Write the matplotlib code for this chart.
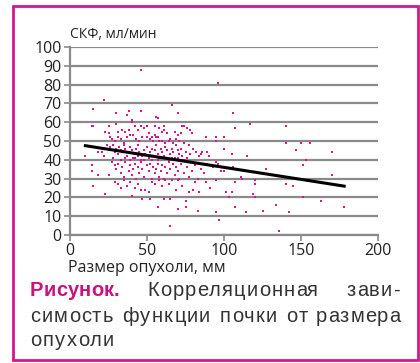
import matplotlib
matplotlib.use("Agg")
import matplotlib.pyplot as plt
from matplotlib.patches import Rectangle

# tumour size (mm) vs GFR (ml/min)
size_mm = [
    15, 22, 30, 37, 38, 46, 46, 40, 56, 57, 66, 70, 96, 106,
    14, 15, 25, 30, 40, 42, 46, 50, 55, 58, 61, 73, 74,
    23, 25, 26, 31, 34, 36, 38, 41, 44, 48, 51, 53, 55, 57, 60, 61, 63, 65, 68, 70, 72, 76, 79, 78,
    27, 29, 31, 33, 35, 37, 39, 43, 45, 47, 50, 52, 54, 56, 58, 60, 62, 64, 67, 69, 71, 74, 77,
    18, 21, 22, 24, 25, 26, 27, 28, 29, 30, 31, 32, 33, 34, 35, 36, 37, 38, 39, 40, 41, 42, 43, 44,
    45, 46, 47, 48, 49, 50, 51, 52, 53, 54, 55, 56, 57, 58, 59, 60, 61, 62, 63, 64, 65, 66, 67, 68,
    69, 70, 71, 72, 73, 75, 76, 78, 80, 82, 84,
    28, 33, 36, 39, 42, 44, 48, 53, 57, 60, 66, 70, 74, 10,
    14, 14, 18, 25, 27, 29, 30, 31, 33, 34, 35, 36, 38, 39, 40, 41, 42, 43, 44, 45, 46, 47, 48, 50,
    51, 52, 53, 54, 55, 56, 57, 58, 59, 60, 61, 62, 63, 64, 65, 67, 68, 69, 70, 71, 72, 74, 76, 77,
    79, 81, 83, 85, 87, 89, 93, 98, 100,
    15, 23, 29, 31, 33, 35, 37, 39, 40, 42, 44, 46, 49, 51, 53, 55, 58, 60, 62, 64, 66, 69, 70, 73,
    77, 80, 81, 84, 88, 91, 95, 101, 103, 105, 107, 112, 119, 120, 120, 120, 140, 145, 151,
    47, 52, 57, 61, 65, 65, 70, 75, 75, 83, 95, 97, 107, 114, 125, 134, 136, 142, 163, 178,
    88, 95, 100, 95, 86, 90, 89, 85, 95, 96, 100, 105, 106, 111, 115, 107, 117, 127, 140, 140,
    147, 150, 151, 153, 170, 170, 156,
]
gfr = [
    67, 72, 65, 64, 66, 88, 66, 61, 63, 62, 69, 65, 81, 65,
    58, 58, 58, 59, 60, 58, 58, 58, 58, 57, 58, 58, 58,
    55, 54, 52, 55, 56, 55, 56, 53, 56, 57, 54, 52, 53, 52, 55, 56, 54, 51, 55, 53, 54, 57, 54, 56,
    51, 50, 52, 51, 49, 52, 53, 51, 50, 52, 52, 51, 50, 52, 50, 50, 49, 50, 49, 51, 50, 49, 48,
    44, 44, 42, 48, 46, 47, 45, 48, 44, 46, 43, 47, 45, 44, 48, 46, 42, 44, 47, 45, 41, 43, 46, 48,
    44, 40, 42, 45, 43, 47, 41, 44, 46, 42, 45, 48, 43, 41, 46, 44, 42, 47, 45, 40, 43, 46, 44, 41,
    48, 45, 43, 46, 42, 44, 41, 43, 46, 44, 42,
    41, 40, 41, 40, 41, 42, 40, 40, 40, 41, 41, 41, 40, 42,
    37, 34, 32, 32, 39, 37, 35, 38, 33, 36, 31, 39, 34, 37, 32, 35, 38, 30, 36, 33, 39, 35, 31, 37,
    34, 38, 30, 36, 33, 35, 38, 31, 34, 37, 30, 36, 33, 39, 35, 38, 32, 36, 34, 30, 38, 33, 36, 31,
    34, 37, 30, 35, 33, 38, 36, 34, 34,
    26, 22, 28, 27, 25, 29, 26, 28, 21, 25, 27, 24, 24, 23, 28, 27, 29, 26, 29, 27, 29, 24, 29, 26,
    23, 24, 28, 23, 28, 25, 29, 23, 20, 23, 28, 30, 22, 20, 27, 29, 27, 26, 20,
    19, 19, 15, 19, 19, 5, 14, 18, 15, 13, 12, 8, 15, 12, 13, 16, 2, 12, 18, 15,
    52, 52, 52, 50, 44, 42, 44, 43, 39, 38, 46, 43, 36, 31, 42, 57, 59, 35, 58, 49,
    45, 49, 37, 40, 44, 32, 49,
]

# linear trend
trend_x = [10, 178]
trend_y = [47.5, 26]

x_ticks = [0, 50, 100, 150, 200]
y_ticks = list(range(0, 101, 10))

caption_lines = [
    ["Рисунок.", "Корреляционная", "зави-"],
    ["симость", "функции", "почки", "от", "размера"],
    ["опухоли"],
]

pink = "#e0138c"
grey = "#8a8a8a"
W, H = 420, 363

fig = plt.figure(figsize=(4.2, 3.63), dpi=100)
ax = fig.add_axes([70 / W, 1 - 235 / H, 308 / W, 188 / H])

ax.scatter(size_mm, gfr, s=2.5, marker="s", color=pink, linewidths=0, zorder=3)
ax.plot(trend_x, trend_y, color="black", lw=2.2, zorder=4)

ax.set_xlim(0, 200)
ax.set_ylim(0, 100)
ax.set_xticks(x_ticks)
ax.set_yticks(y_ticks)
ax.yaxis.grid(True, color=grey, lw=1.6)
ax.set_axisbelow(True)
for s in ["top", "right"]:
    ax.spines[s].set_visible(False)
for s in ["left", "bottom"]:
    ax.spines[s].set_color(grey)
    ax.spines[s].set_linewidth(1.6)
ax.tick_params(colors=grey, width=1.2, length=4, labelcolor="#222222",
               labelsize=11.5, pad=2)
for lab in ax.get_xticklabels() + ax.get_yticklabels():
    lab.set_family(["Open Sans", "DejaVu Sans"])

fig.text(70 / W, 1 - 34 / H, "СКФ, мл/мин", fontsize=10, color="#222222",
         family=["Open Sans", "DejaVu Sans"], va="center")
fig.text(68 / W, 1 - 268 / H, "Размер опухоли, мм", fontsize=11.5, color="#222222",
         family=["Open Sans", "DejaVu Sans"], va="center")

# caption: letter-spaced, justified between x=30 and x=400 px
cap = dict(fontsize=14.5, color="#333333", family=["Liberation Sans", "DejaVu Sans"],
           va="center")
bold = dict(cap, color="#c8127f", fontweight="bold")
fig.canvas.draw()
r = fig.canvas.get_renderer()
tmp = fig.text(0, 0, "", **cap)


def prefix_widths(word, kw):
    tmp.set(**kw)
    out = [0.0]
    for k in range(1, len(word) + 1):
        tmp.set_text(word[:k])
        out.append(tmp.get_window_extent(r).width)
    return out


styles = [[bold if (i == 0 and j == 0) else cap for j in range(len(ws))]
          for i, ws in enumerate(caption_lines)]
pw = [[prefix_widths(w, st) for w, st in zip(ws, sts)]
      for ws, sts in zip(caption_lines, styles)]
tmp.remove()

# tracking chosen so that line 2 has normal word gaps (~8 px)
line2 = pw[1]
n_gaps = sum(len(p) - 2 for p in line2)
track = (370 - 8 * (len(line2) - 1) - sum(p[-1] for p in line2)) / n_gaps
track = max(track, 0.0)

for i, (words, yc) in enumerate(zip(caption_lines, [290, 316, 341])):
    widths = [p[-1] + track * (len(p) - 2) for p in pw[i]]
    gap = (370 - sum(widths)) / (len(words) - 1) if i < 2 else 8
    x = 30
    for w, st, p, wd in zip(words, styles[i], pw[i], widths):
        for k, ch in enumerate(w):
            fig.text((x + p[k] + track * k) / W, 1 - yc / H, ch, **st)
        x += wd + gap

fig.patches.append(Rectangle((13 / W, 3 / H), 405 / W, 354 / H,
                             transform=fig.transFigure, fill=False,
                             edgecolor="#d4168c", lw=2))

fig.savefig("out.png", dpi=100)
